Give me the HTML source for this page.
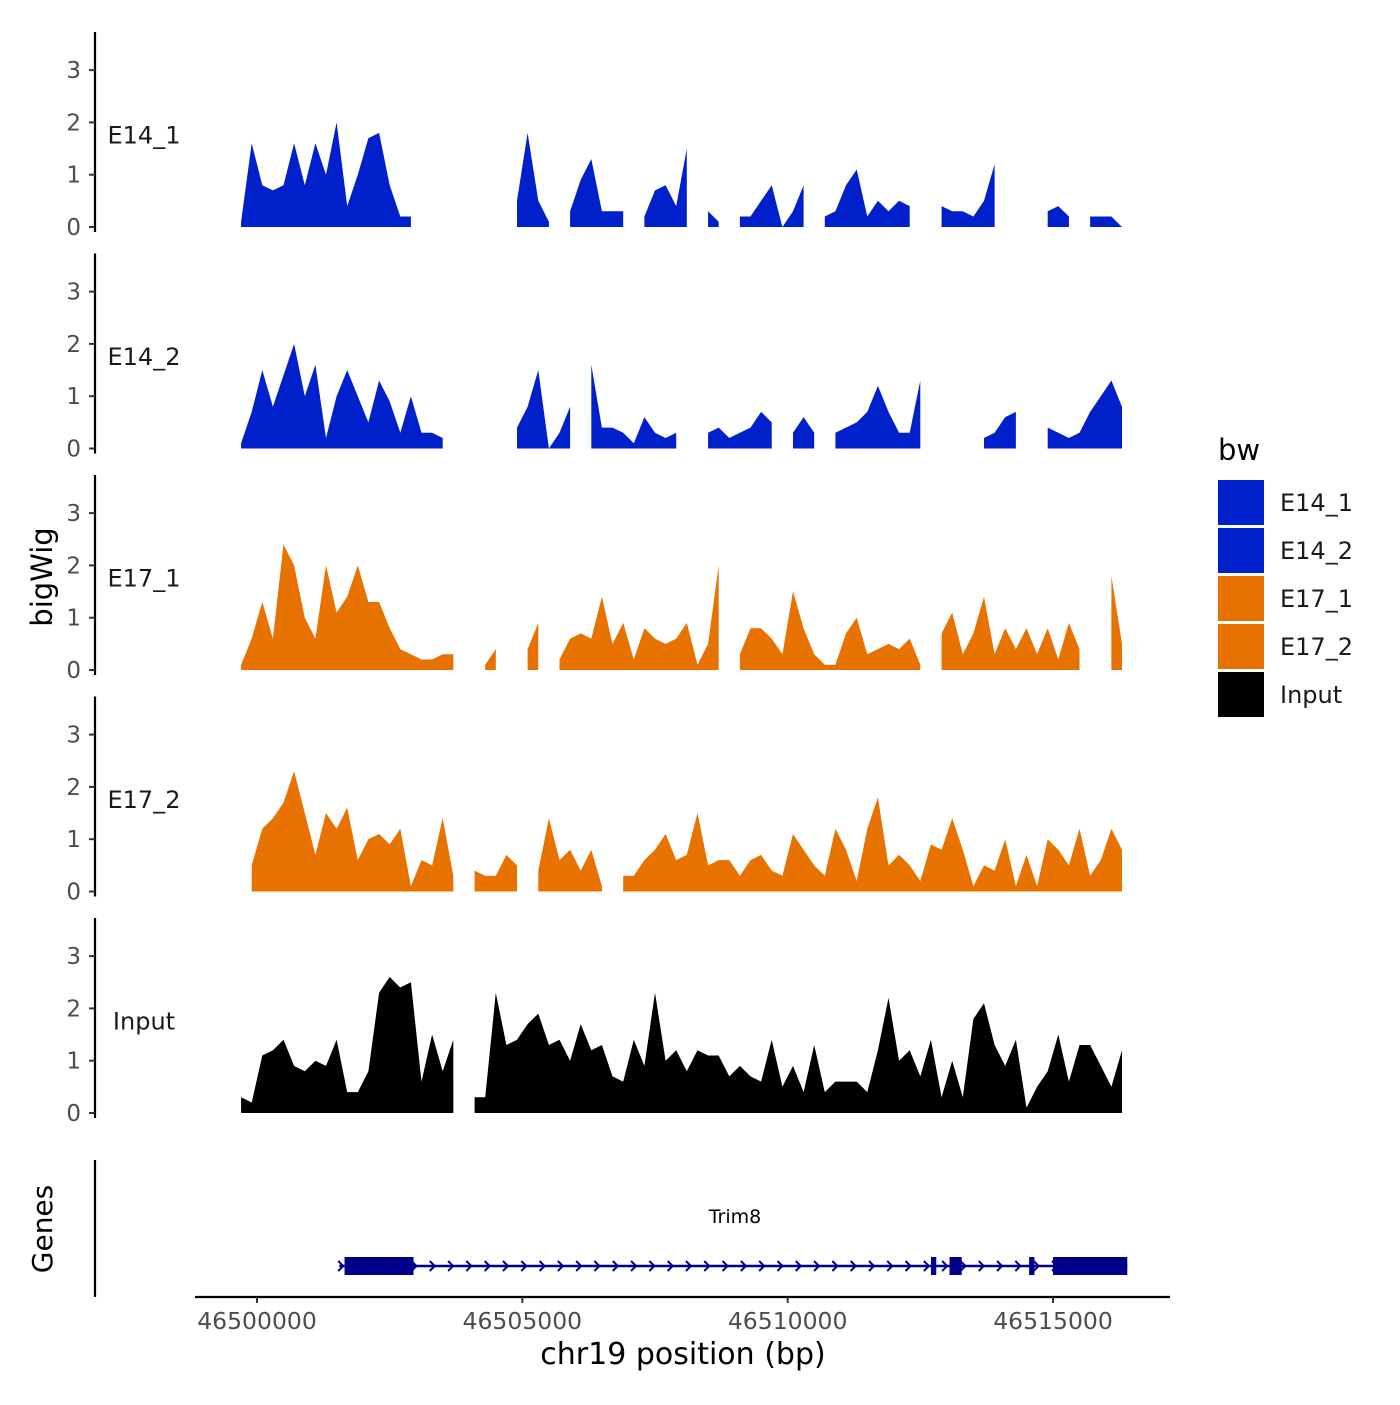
<!DOCTYPE html>
<html><head><meta charset="utf-8"><style>
body{margin:0;background:#fff;}
svg text{font-family:"DejaVu Sans","Liberation Sans",sans-serif;}
</style></head><body>
<svg id="chart" width="1400" height="1400" viewBox="0 0 1400 1400" xmlns="http://www.w3.org/2000/svg">
<g id="tracks"></g>
<g id="genes">
  <line x1="95" y1="1160" x2="95" y2="1297" stroke="#000" stroke-width="2.2"/>
  <text x="0" y="0" transform="translate(52,1229) rotate(-90)" text-anchor="middle" font-size="28">Genes</text>
  <text x="735" y="1223" text-anchor="middle" font-size="19">Trim8</text>
</g>
<g id="xaxis">
  <line x1="195" y1="1297" x2="1170" y2="1297" stroke="#000" stroke-width="2.2"/>
  <text x="683" y="1364" text-anchor="middle" font-size="30">chr19 position (bp)</text>
</g>
<text x="0" y="0" transform="translate(52,577) rotate(-90)" text-anchor="middle" font-size="29">bigWig</text>
<g id="legend">
  <text x="1218" y="460" font-size="29">bw</text>
</g>
</svg>
<script>
// ---- data ----
const startBp = 46499700;
const stepBp = 200;
const trackNames = ["E14_1","E14_2","E17_1","E17_2","Input"];
const trackColors = ["#0020CC","#0020CC","#E87200","#E87200","#000000"];
const yTicks = [0,1,2,3];
const xTicks = [46500000,46505000,46510000,46515000];
const xTickLabels = ["46500000","46505000","46510000","46515000"];
const N = null;
const e14_1 = [0.1,1.6,0.8,0.7,0.8,1.6,0.8,1.6,1.0,2.0,0.4,1.0,1.7,1.8,0.8,0.2,0.2,N,N,N,N,N,N,N,N,N,0.5,1.8,0.5,0.1,N,0.3,0.9,1.3,0.3,0.3,0.3,N,0.2,0.7,0.8,0.4,1.5,N,0.3,0.1,N,0.2,0.2,0.5,0.8,0,0.3,0.8,N,0.2,0.3,0.8,1.1,0.2,0.5,0.3,0.5,0.4,N,N,0.4,0.3,0.3,0.2,0.5,1.2,N,N,0.3,N,0.3,0.4,0.2,N,0.2,0.2,0.2,0];
const e14_2 = [0.1,0.7,1.5,0.8,1.4,2.0,1.0,1.6,0.2,1.0,1.5,1.0,0.5,1.3,0.9,0.3,1.0,0.3,0.3,0.2,N,N,N,N,N,N,0.4,0.8,1.5,0.0,0.3,0.8,N,1.6,0.4,0.4,0.3,0.1,0.6,0.3,0.2,0.3,N,N,0.3,0.4,0.2,0.3,0.4,0.7,0.5,N,0.3,0.6,0.3,N,0.3,0.4,0.5,0.7,1.2,0.7,0.3,0.3,1.3,N,N,0.2,N,N,0.2,0.3,0.6,0.7,N,N,0.4,0.3,0.2,0.3,0.7,1.0,1.3,0.8];
const e17_1 = [0.1,0.6,1.3,0.6,2.4,2.0,1.0,0.6,2.0,1.1,1.4,2.0,1.3,1.3,0.8,0.4,0.3,0.2,0.2,0.3,0.3,N,N,0.1,0.4,N,N,0.4,0.9,N,0.2,0.6,0.7,0.6,1.4,0.5,0.9,0.2,0.8,0.6,0.5,0.6,0.9,0.1,0.5,2.0,N,0.3,0.8,0.8,0.6,0.3,1.5,0.8,0.3,0.1,0.1,0.7,1.0,0.3,0.4,0.5,0.4,0.6,0.1,N,0.7,1.1,0.3,0.7,1.4,0.3,0.8,0.4,0.8,0.3,0.8,0.2,0.9,0.4,N,N,1.8,0.5];
const e17_2 = [N,0.5,1.2,1.4,1.7,2.3,1.5,0.7,1.5,1.2,1.6,0.6,1.0,1.1,0.9,1.2,0.1,0.6,0.5,1.4,0.3,N,0.4,0.3,0.3,0.7,0.5,N,0.4,1.4,0.6,0.8,0.4,0.8,0.1,N,0.3,0.3,0.6,0.8,1.1,0.6,0.7,1.5,0.5,0.6,0.6,0.3,0.6,0.7,0.4,0.3,1.1,0.8,0.5,0.3,1.2,0.8,0.2,1.2,1.8,0.5,0.7,0.5,0.2,0.9,0.8,1.4,0.8,0.1,0.5,0.4,1.0,0.1,0.7,0.1,1.0,0.8,0.5,1.2,0.3,0.6,1.2,0.8];
const input = [0.3,0.2,1.1,1.2,1.4,0.9,0.8,1.0,0.9,1.4,0.4,0.4,0.8,2.3,2.6,2.4,2.5,0.6,1.5,0.8,1.4,N,0.3,0.3,2.3,1.3,1.4,1.7,1.9,1.3,1.4,1.0,1.7,1.2,1.3,0.7,0.6,1.4,0.9,2.3,1.0,1.2,0.8,1.2,1.1,1.1,0.7,0.9,0.7,0.6,1.4,0.5,0.9,0.4,1.3,0.4,0.6,0.6,0.6,0.4,1.2,2.2,1.0,1.2,0.7,1.4,0.3,1.0,0.3,1.8,2.1,1.3,0.9,1.4,0.1,0.5,0.8,1.5,0.6,1.3,1.3,0.9,0.5,1.2];
const trackValues = [e14_1,e14_2,e17_1,e17_2,input];
const geneExons = [[46501650,46502950],[46512700,46512800],[46513050,46513280],[46514550,46514650],[46515000,46516400]];
const geneSpan = [46501550,46516400];

// ---- scales ----
const xScale = bp => 257 + (bp - 46500000) * (1053 - 257) / 15000;
const trackZero = i => 227 + i * 221.5;
const yScale = (i, v) => trackZero(i) - v * 52.3;
const NS = "http://www.w3.org/2000/svg";
function mk(tag, attrs, parent){ const e=document.createElementNS(NS,tag); for(const k in attrs) e.setAttribute(k,attrs[k]); parent.appendChild(e); return e; }

const tracksG = document.getElementById('tracks');
trackNames.forEach((name, i) => {
  const g = mk('g', {}, tracksG);
  
  
  const vals = trackValues[i];
  let seg = [];
  const segs = [];
  vals.forEach((v, j) => {
    if (v === null) { if (seg.length) segs.push(seg); seg = []; }
    else seg.push([xScale(startBp + j * stepBp), yScale(i, v)]);
  });
  if (seg.length) segs.push(seg);
  segs.forEach(s => {
    const z = trackZero(i);
    let d = 'M' + s[0][0] + ',' + z;
    s.forEach(p => { d += 'L' + p[0].toFixed(1) + ',' + p[1].toFixed(1); });
    d += 'L' + s[s.length-1][0] + ',' + z + 'Z';
    const p = mk('path', {d: d, fill: trackColors[i]}, g);
    
    
  });
  const ax = mk('line', {x1:95, x2:95, y1: trackZero(i) - 195, y2: trackZero(i) + 5, stroke:'#000', 'stroke-width':2.2}, g);
  
  
  yTicks.forEach(t => {
    const y = yScale(i, t);
    const tl = mk('line', {x1:89, x2:95, y1:y, y2:y, stroke:'#333', 'stroke-width':2}, g);
    
    
    const tx = mk('text', {x:81, y:y+8, 'text-anchor':'end', 'font-size':23, fill:'#4d4d4d'}, g);
    tx.textContent = String(t);
    
    
  });
  const lab = mk('text', {x:144, y: yScale(i, 1.75) + 8, 'text-anchor':'middle', 'font-size':24, fill:'#1a1a1a'}, g);
  lab.textContent = name;
  
  
});

// gene
const gg = document.getElementById('genes');
const gy = 1266;
const gl = mk('line', {x1:xScale(geneSpan[0]), x2:xScale(geneSpan[1]), y1:gy, y2:gy, stroke:'#00008B', 'stroke-width':2.5}, gg);


for (let x = xScale(geneSpan[0]) + 2; x < xScale(geneSpan[1]); x += 18.3) {
  const a = mk('path', {d:`M${x-3},${gy-5}L${x+2},${gy}L${x-3},${gy+5}`, fill:'none', stroke:'#00008B', 'stroke-width':2}, gg);
  
  
}
geneExons.forEach(e => {
  const r = mk('rect', {x:xScale(e[0]), y:gy-9, width:xScale(e[1])-xScale(e[0]), height:18, fill:'#00008B'}, gg);
  
  
});

// x axis
const xg = document.getElementById('xaxis');
xTicks.forEach((t, k) => {
  const x = xScale(t);
  const l = mk('line', {x1:x, x2:x, y1:1297, y2:1303, stroke:'#333', 'stroke-width':2}, xg);
  
  
  const tx = mk('text', {x:x, y:1329, 'text-anchor':'middle', 'font-size':23.5, fill:'#4d4d4d'}, xg);
  tx.textContent = xTickLabels[k];
  
  
});

// legend
const lg = document.getElementById('legend');
trackNames.forEach((name, i) => {
  const y = 480 + i * 48;
  const r = mk('rect', {x:1218, y:y, width:46, height:45, fill:trackColors[i]}, lg);
  
  
  const t = mk('text', {x:1280, y:y+31, 'font-size':24, fill:'#1a1a1a'}, lg);
  t.textContent = name;
  
  
});
</script>
</body></html>
